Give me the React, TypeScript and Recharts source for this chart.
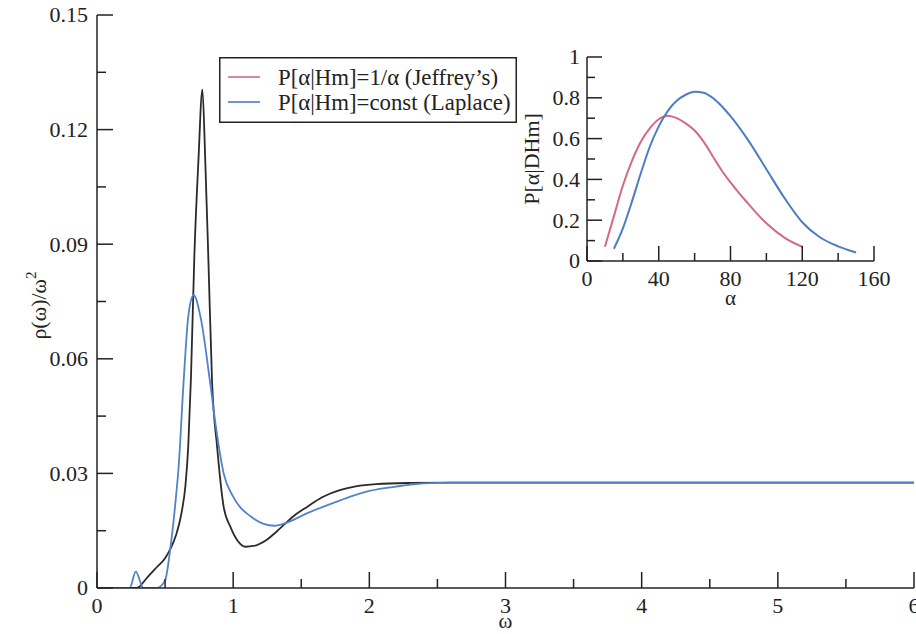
import React from 'react';
import { LineChart, Line, XAxis, YAxis, Legend, Label } from 'recharts';

const FONT = '"Liberation Serif", "Times New Roman", serif';
const INK = '#222222';
const MAIN_BLACK = '#2a2a2a';
const MAIN_BLUE = '#5282cc';
const INSET_RED = '#d46a82';
const INSET_BLUE = '#4c7cc8';

// ---------- main plot data ----------
const omegaBlack = [0, 0.29, 0.37, 0.44, 0.5, 0.54, 0.58, 0.62, 0.65, 0.67, 0.69, 0.715, 0.745, 0.774, 0.795, 0.818, 0.845, 0.882, 0.93, 0.98, 1.03, 1.09, 1.15, 1.25, 1.32, 1.45, 1.545, 1.65, 1.79, 1.9, 2.05, 2.3, 2.6, 3, 4, 5, 6];
const rhoBlack = [0, 0, 0.0028, 0.0055, 0.0078, 0.0103, 0.0138, 0.0195, 0.027, 0.037, 0.055, 0.087, 0.112, 0.1305, 0.112, 0.086, 0.054, 0.037, 0.0213, 0.016, 0.0125, 0.0108, 0.011, 0.0127, 0.0148, 0.019, 0.0213, 0.0237, 0.0257, 0.0266, 0.0272, 0.0275, 0.0276, 0.0276, 0.0276, 0.0276, 0.0276];

const omegaBlue = [0, 0.24, 0.285, 0.34, 0.44, 0.5, 0.54, 0.575, 0.6, 0.636, 0.67, 0.71, 0.76, 0.83, 0.87, 0.93, 1.0, 1.13, 1.3, 1.4, 1.545, 1.79, 1.86, 2.0, 2.23, 2.4, 2.6, 3, 4, 5, 6];
const rhoBlue = [0, 0, 0.0043, 0, 0, 0.002, 0.0108, 0.022, 0.032, 0.054, 0.071, 0.0767, 0.071, 0.054, 0.043, 0.03, 0.0239, 0.0187, 0.0163, 0.0172, 0.0196, 0.023, 0.0239, 0.0254, 0.0267, 0.0274, 0.0276, 0.0276, 0.0276, 0.0276, 0.0276];

const omegaTicks = [0, 0.5, 1, 1.5, 2, 2.5, 3, 3.5, 4, 4.5, 5, 5.5, 6];
const omegaMajor = [0, 1, 2, 3, 4, 5, 6];
const omegaLabels = ['0', '1', '2', '3', '4', '5', '6'];
const rhoTicks = [0, 0.015, 0.03, 0.045, 0.06, 0.075, 0.09, 0.105, 0.12, 0.135, 0.15];
const rhoMajor = [0, 0.03, 0.06, 0.09, 0.12, 0.15];
const rhoLabels = ['0', '0.03', '0.06', '0.09', '0.12', '0.15'];

// ---------- inset data ----------
const alphaJeffrey = [10, 15, 20, 25, 30, 35, 40, 45, 50, 55, 60, 65, 70, 75, 80, 85, 90, 95, 100, 110, 120];
const probJeffrey = [0.07, 0.22, 0.37, 0.49, 0.585, 0.65, 0.695, 0.712, 0.7, 0.675, 0.64, 0.585, 0.515, 0.445, 0.385, 0.33, 0.28, 0.23, 0.185, 0.115, 0.07];
const alphaLaplace = [15, 20, 25, 30, 35, 40, 45, 50, 55, 60, 65, 70, 75, 80, 90, 100, 110, 120, 130, 140, 150];
const probLaplace = [0.06, 0.16, 0.29, 0.43, 0.56, 0.66, 0.735, 0.785, 0.815, 0.83, 0.825, 0.8, 0.76, 0.71, 0.59, 0.45, 0.31, 0.19, 0.115, 0.072, 0.042];

const alphaTicks = [0, 20, 40, 60, 80, 100, 120, 140, 160];
const alphaMajor = [0, 40, 80, 120, 160];
const alphaLabels = ['0', '40', '80', '120', '160'];
const probTicks = [0, 0.1, 0.2, 0.3, 0.4, 0.5, 0.6, 0.7, 0.8, 0.9, 1];
const probMajor = [0, 0.2, 0.4, 0.6, 0.8, 1];
const probLabels = ['0', '0.2', '0.4', '0.6', '0.8', '1'];

const zip = (xs: number[], ys: number[]) => xs.map((x, i) => ({ x, y: ys[i] }));
const blackData = zip(omegaBlack, rhoBlack);
const blueData = zip(omegaBlue, rhoBlue);
const jeffreyData = zip(alphaJeffrey, probJeffrey);
const laplaceData = zip(alphaLaplace, probLaplace);

type Side = 'bottom' | 'top' | 'left' | 'right';

function makeTick(
  side: Side,
  majors: number[],
  labels: string[] | null,
  majorLen: number,
  minorLen: number,
  gap: number,
  fontSize: number
) {
  return (p: any) => {
    const v = p.payload.value;
    const idx = majors.findIndex((m) => Math.abs(m - v) < 1e-9);
    const major = idx >= 0;
    const len = major ? majorLen : minorLen;
    const x = p.x;
    const y = p.y;
    let line: any;
    let text: any = null;
    if (side === 'bottom') {
      line = <line x1={x} x2={x} y1={y} y2={y - len} stroke={INK} strokeWidth={1.5} />;
      if (labels && major)
        text = (
          <text x={x} y={y + gap} textAnchor="middle" fontFamily={FONT} fontSize={fontSize} fill={INK}>
            {labels[idx]}
          </text>
        );
    } else if (side === 'top') {
      line = <line x1={x} x2={x} y1={y} y2={y + len} stroke={INK} strokeWidth={1.5} />;
    } else if (side === 'left') {
      line = <line x1={x} x2={x + len} y1={y} y2={y} stroke={INK} strokeWidth={1.5} />;
      if (labels && major)
        text = (
          <text x={x - gap} y={y} dy="0.34em" textAnchor="end" fontFamily={FONT} fontSize={fontSize} fill={INK}>
            {labels[idx]}
          </text>
        );
    } else {
      line = <line x1={x} x2={x - len} y1={y} y2={y} stroke={INK} strokeWidth={1.5} />;
    }
    return (
      <g>
        {line}
        {text}
      </g>
    );
  };
}

const axisLine = { stroke: INK, strokeWidth: 1.5 };

const LegendBox = (props: any) => {
  const items = props.payload || [];
  return (
    <svg width={298} height={66} style={{ display: 'block' }}>
      <rect x={0.75} y={0.75} width={296.5} height={64.5} fill="#ffffff" stroke={INK} strokeWidth={1.5} />
      {items.map((it: any, i: number) => (
        <g key={i}>
          <line x1={9} x2={41} y1={20 + i * 25} y2={20 + i * 25} stroke={it.color} strokeWidth={1.6} />
          <text x={59} y={27.5 + i * 25} fontFamily={FONT} fontSize={22.8} fill={INK}>
            {it.value}
          </text>
        </g>
      ))}
    </svg>
  );
};

export default function App() {
  return (
    <div style={{ position: 'absolute', left: 0, top: 0, width: 916, height: 634, background: '#ffffff' }}>
      <div style={{ position: 'absolute', left: 0, top: 0 }}>
        <LineChart width={916} height={634} margin={{ top: 15, right: 2, bottom: 0, left: 0 }}>
          <XAxis
            xAxisId="b"
            type="number"
            dataKey="x"
            domain={[0, 6]}
            allowDataOverflow
            ticks={omegaTicks}
            interval={0}
            height={46}
            tickSize={0}
            tickMargin={0}
            tickLine={false}
            axisLine={axisLine}
            tick={makeTick('bottom', omegaMajor, omegaLabels, 16, 9, 25, 22)}
          >
            <Label
              content={(lp: any) => {
                const vb = lp.viewBox;
                return (
                  <text x={vb.x + vb.width / 2} y={vb.y + 40} textAnchor="middle" fontFamily={FONT} fontSize={21} fill={INK}>
                    ω
                  </text>
                );
              }}
            />
          </XAxis>
          <XAxis
            xAxisId="t"
            orientation="top"
            type="number"
            dataKey="x"
            domain={[0, 6]}
            allowDataOverflow
            ticks={omegaTicks}
            interval={0}
            height={0}
            tickSize={0}
            tickMargin={0}
            tickLine={false}
            axisLine={axisLine}
            tick={makeTick('top', omegaMajor, null, 16, 9, 0, 22)}
          />
          <YAxis
            yAxisId="l"
            type="number"
            domain={[0, 0.15]}
            allowDataOverflow
            ticks={rhoTicks}
            interval={0}
            width={97}
            tickSize={0}
            tickMargin={0}
            tickLine={false}
            axisLine={axisLine}
            tick={makeTick('left', rhoMajor, rhoLabels, 16, 9, 9, 22)}
          >
            <Label
              content={(lp: any) => {
                const vb = lp.viewBox;
                const cx = 46;
                const cy = vb.y + vb.height / 2 + 4;
                return (
                  <text
                    x={cx}
                    y={cy}
                    transform={`rotate(-90, ${cx}, ${cy})`}
                    textAnchor="middle"
                    fontFamily={FONT}
                    fontSize={22}
                    fill={INK}
                  >
                    ρ(ω)/ω
                    <tspan dy={-10} fontSize={15}>
                      2
                    </tspan>
                  </text>
                );
              }}
            />
          </YAxis>
          <YAxis
            yAxisId="r"
            orientation="right"
            type="number"
            domain={[0, 0.15]}
            allowDataOverflow
            ticks={rhoTicks}
            interval={0}
            width={0}
            tickSize={0}
            tickMargin={0}
            tickLine={false}
            axisLine={axisLine}
            tick={makeTick('right', rhoMajor, null, 16, 9, 0, 22)}
          />
          <Line
            xAxisId="b"
            yAxisId="l"
            data={blackData}
            dataKey="y"
            type="monotone"
            stroke={MAIN_BLACK}
            strokeWidth={1.8}
            dot={false}
            isAnimationActive={false}
          />
          <Line
            xAxisId="b"
            yAxisId="l"
            data={blueData}
            dataKey="y"
            type="monotone"
            stroke={MAIN_BLUE}
            strokeWidth={1.8}
            dot={false}
            isAnimationActive={false}
          />
        </LineChart>
      </div>
      <div style={{ position: 'absolute', left: 0, top: 0 }}>
        <LineChart width={916} height={634} margin={{ top: 57, right: 42, bottom: 0, left: 0 }}>
          <XAxis
            xAxisId="b"
            type="number"
            dataKey="x"
            domain={[0, 160]}
            allowDataOverflow
            ticks={alphaTicks}
            interval={0}
            height={373}
            tickSize={0}
            tickMargin={0}
            tickLine={false}
            axisLine={axisLine}
            tick={makeTick('bottom', alphaMajor, alphaLabels, 15, 8, 25, 22)}
          >
            <Label
              content={(lp: any) => {
                const vb = lp.viewBox;
                return (
                  <text x={vb.x + vb.width / 2} y={vb.y + 44} textAnchor="middle" fontFamily={FONT} fontSize={21} fill={INK}>
                    α
                  </text>
                );
              }}
            />
          </XAxis>
          <XAxis
            xAxisId="t"
            orientation="top"
            type="number"
            dataKey="x"
            domain={[0, 160]}
            allowDataOverflow
            ticks={alphaTicks}
            interval={0}
            height={0}
            tickSize={0}
            tickMargin={0}
            tickLine={false}
            axisLine={axisLine}
            tick={makeTick('top', alphaMajor, null, 15, 8, 0, 22)}
          />
          <YAxis
            yAxisId="l"
            type="number"
            domain={[0, 1]}
            allowDataOverflow
            ticks={probTicks}
            interval={0}
            width={587}
            tickSize={0}
            tickMargin={0}
            tickLine={false}
            axisLine={axisLine}
            tick={makeTick('left', probMajor, probLabels, 15, 8, 7, 22)}
          >
            <Label
              content={(lp: any) => {
                const vb = lp.viewBox;
                const cx = vb.x + vb.width - 48;
                const cy = vb.y + vb.height / 2;
                return (
                  <text
                    x={cx}
                    y={cy}
                    transform={`rotate(-90, ${cx}, ${cy})`}
                    textAnchor="middle"
                    fontFamily={FONT}
                    fontSize={22}
                    fill={INK}
                  >
                    P[α|DHm]
                  </text>
                );
              }}
            />
          </YAxis>
          <YAxis
            yAxisId="r"
            orientation="right"
            type="number"
            domain={[0, 1]}
            allowDataOverflow
            ticks={probTicks}
            interval={0}
            width={0}
            tickSize={0}
            tickMargin={0}
            tickLine={false}
            axisLine={axisLine}
            tick={makeTick('right', probMajor, null, 15, 8, 0, 22)}
          />
          <Line
            xAxisId="b"
            yAxisId="l"
            name="P[α|Hm]=1/α (Jeffrey’s)"
            data={jeffreyData}
            dataKey="y"
            type="monotone"
            stroke={INSET_RED}
            strokeWidth={2}
            dot={false}
            isAnimationActive={false}
          />
          <Line
            xAxisId="b"
            yAxisId="l"
            name="P[α|Hm]=const (Laplace)"
            data={laplaceData}
            dataKey="y"
            type="monotone"
            stroke={INSET_BLUE}
            strokeWidth={2}
            dot={false}
            isAnimationActive={false}
          />
          <Legend
            layout="horizontal"
            verticalAlign="middle"
            align="center"
            content={LegendBox}
            wrapperStyle={{ left: 219, top: 57, width: 298, height: 66 }}
          />
        </LineChart>
      </div>
    </div>
  );
}
